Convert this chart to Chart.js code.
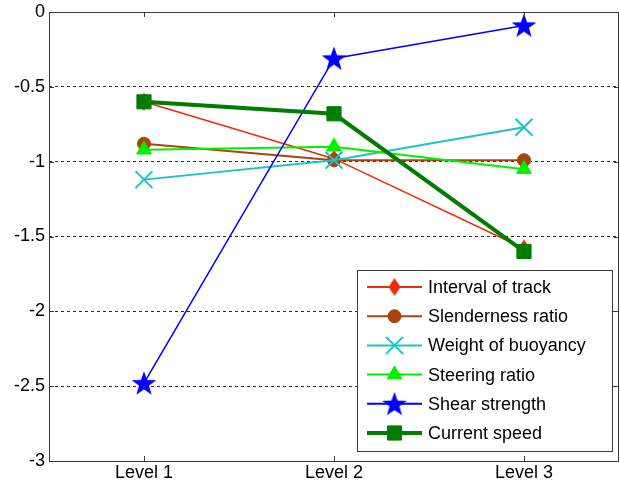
<!DOCTYPE html>
<html>
<head>
<meta charset="utf-8">
<script src="https://cdn.jsdelivr.net/npm/chart.js@4.4.1/dist/chart.umd.min.js"></script>
<style>
  html, body { margin: 0; padding: 0; background: #fff; }
  canvas { display: block; }
</style>
</head>
<body>
<canvas id="chart" width="620" height="484"></canvas>
<script>
// categories and series values
const levels = ['Level 1', 'Level 2', 'Level 3'];
const intervalOfTrack    = [-0.60, -0.98, -1.58];
const slendernessRatio   = [-0.88, -0.99, -0.99];
const weightOfBuoyancy   = [-1.12, -0.99, -0.77];
const steeringRatio      = [-0.92, -0.90, -1.05];
const shearStrength      = [-2.48, -0.31, -0.09];
const currentSpeed       = [-0.60, -0.68, -1.60];
const yTicks = [0, -0.5, -1, -1.5, -2, -2.5, -3];

const FONT = '"Liberation Sans", Arial, sans-serif';
const AXIS_COLOR = '#3a3a3a';

// marker images (matlab-like pentagram and diamond)
function makeStar(r, color) {
  const s = Math.ceil(r * 2 + 2);
  const c = document.createElement('canvas');
  c.width = s; c.height = s;
  const g = c.getContext('2d');
  g.fillStyle = color;
  g.beginPath();
  for (let i = 0; i < 10; i++) {
    const rad = i % 2 ? r * 0.4 : r;
    const a = -Math.PI / 2 + i * Math.PI / 5;
    g.lineTo(s / 2 + rad * Math.cos(a), s / 2 + 1 + rad * Math.sin(a));
  }
  g.closePath();
  g.fill();
  return c;
}
function makeDiamond(w, h, color) {
  const c = document.createElement('canvas');
  c.width = w * 2 + 2; c.height = h * 2 + 2;
  const g = c.getContext('2d');
  const cx = c.width / 2, cy = c.height / 2;
  g.fillStyle = color;
  g.beginPath();
  g.moveTo(cx, cy - h); g.lineTo(cx + w, cy); g.lineTo(cx, cy + h); g.lineTo(cx - w, cy);
  g.closePath();
  g.fill();
  return c;
}

const RED = '#ee2a0a', BROWN = '#a8440c', CYAN = '#1cc4c8', LIME = '#00f000', BLUE = '#0000ff', DKGREEN = '#007c00';

const series = [
  { label: 'Interval of track',  data: intervalOfTrack,  color: RED,     width: 1.5, style: makeDiamond(6, 9, RED), radius: 9 },
  { label: 'Slenderness ratio',  data: slendernessRatio, color: BROWN,   width: 2,   style: 'circle',   radius: 6.5 },
  { label: 'Weight of buoyancy', data: weightOfBuoyancy, color: CYAN,    width: 2,   style: 'crossRot', radius: 12 },
  { label: 'Steering ratio',     data: steeringRatio,    color: LIME,    width: 2,   style: 'triangle', radius: 8.5 },
  { label: 'Shear strength',     data: shearStrength,    color: BLUE,    width: 1.5, style: makeStar(13, BLUE), radius: 13 },
  { label: 'Current speed',      data: currentSpeed,     color: DKGREEN, width: 4,   style: 'rect',     radius: 10 }
];

const datasets = series.map((s, i) => ({
  label: s.label,
  data: s.data,
  borderColor: s.color,
  backgroundColor: s.color,
  borderWidth: s.width,
  pointStyle: s.style,
  pointRadius: s.radius,
  pointBorderWidth: s.style === 'crossRot' ? 2 : 1,
  pointBorderColor: s.color,
  pointBackgroundColor: s.color,
  tension: 0,
  clip: false,
  order: series.length - i
}));

// box, inward ticks and the legend
const boxPlugin = {
  id: 'boxAndLegend',
  afterDraw(chart) {
    const ctx = chart.ctx;
    const a = chart.chartArea;
    const xs = chart.scales.x, ys = chart.scales.y;
    ctx.save();
    ctx.strokeStyle = AXIS_COLOR;
    ctx.lineWidth = 1;
    ctx.strokeRect(Math.round(a.left) + 0.5, Math.round(a.top) + 0.5,
                   Math.round(a.right - a.left) - 1, Math.round(a.bottom - a.top));
    ctx.beginPath();
    levels.forEach((_, i) => {
      const x = Math.round(xs.getPixelForValue(i)) + 0.5;
      ctx.moveTo(x, a.top); ctx.lineTo(x, a.top + 5);
      ctx.moveTo(x, a.bottom); ctx.lineTo(x, a.bottom - 5);
    });
    yTicks.forEach(v => {
      const y = Math.round(ys.getPixelForValue(v)) + 0.5;
      ctx.moveTo(a.left, y); ctx.lineTo(a.left + 5, y);
      ctx.moveTo(a.right, y); ctx.lineTo(a.right - 5, y);
    });
    ctx.stroke();

    // legend
    const lx = 357, ly = 270, lw = 255, lh = 181;
    ctx.fillStyle = '#fff';
    ctx.fillRect(lx, ly, lw, lh);
    ctx.strokeStyle = AXIS_COLOR;
    ctx.strokeRect(lx + 0.5, ly + 0.5, lw, lh);
    ctx.font = '18px ' + FONT;
    ctx.textBaseline = 'middle';
    ctx.textAlign = 'left';
    chart.data.datasets.forEach((ds, i) => {
      const y = 287 + i * 29.2;
      ctx.strokeStyle = ds.borderColor;
      ctx.lineWidth = ds.borderWidth + (ds.borderWidth < 2 ? 0.5 : 0);
      ctx.beginPath();
      ctx.moveTo(367, y); ctx.lineTo(422, y);
      ctx.stroke();
      ctx.fillStyle = ds.pointBackgroundColor;
      ctx.strokeStyle = ds.pointBorderColor;
      ctx.lineWidth = ds.pointBorderWidth;
      Chart.helpers.drawPoint(ctx, {
        pointStyle: ds.pointStyle, radius: ds.pointRadius, rotation: 0, borderWidth: ds.pointBorderWidth
      }, 394.5, y);
      ctx.fillStyle = '#000';
      ctx.fillText(ds.label, 428, y + 1);
    });
    ctx.restore();
  }
};

new Chart(document.getElementById('chart'), {
  type: 'line',
  data: { labels: levels, datasets: datasets },
  options: {
    responsive: false,
    devicePixelRatio: 1,
    animation: false,
    layout: { autoPadding: false, padding: { top: 12, right: 1, left: 0, bottom: 0 } },
    plugins: { legend: { display: false }, tooltip: { enabled: false } },
    scales: {
      x: {
        offset: true,
        grid: { display: false, drawTicks: false },
        border: { display: false },
        ticks: { color: '#000', font: { family: FONT, size: 18 }, padding: 1, maxRotation: 0 },
        afterFit(scale) {
          scale.height = 23;
          scale.paddingLeft = 0; scale.paddingRight = 0;
        }
      },
      y: {
        min: -3, max: 0,
        afterBuildTicks(scale) { scale.ticks = yTicks.map(v => ({ value: v })); },
        grid: {
          drawTicks: false,
          color: ctx => (ctx.tick && (ctx.tick.value === 0 || ctx.tick.value === -3)) ? 'rgba(0,0,0,0)' : '#2a2a2a',
          lineWidth: 1
        },
        border: { display: false, dash: [3, 3] },
        ticks: {
          color: '#000', font: { family: FONT, size: 18 }, padding: 4,
          callback: v => String(v)
        },
        afterFit(scale) {
          scale.width = 49;
          scale.paddingTop = 0; scale.paddingBottom = 0;
        }
      }
    }
  },
  plugins: [boxPlugin]
});
</script>
</body>
</html>
